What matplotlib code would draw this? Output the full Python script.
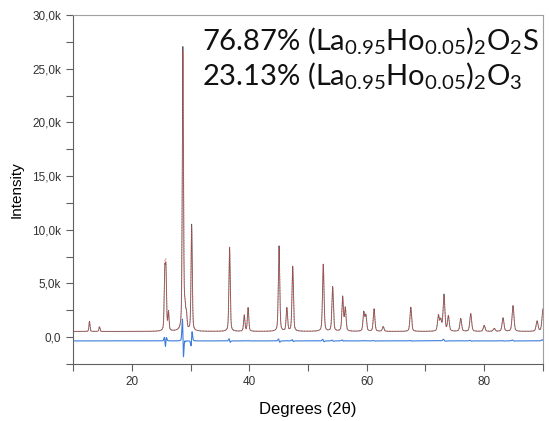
import numpy as np
import matplotlib
matplotlib.use('Agg')
import matplotlib.pyplot as plt
from matplotlib.ticker import MultipleLocator, FuncFormatter

# Peak list read off the pattern: position (2theta), observed height, calculated height,
# and small offset of the calculated peak (gives the residual wiggles)
peak_pos = [12.8, 14.5, 25.62, 25.82, 26.25, 28.70, 29.05, 29.30, 30.20, 36.65,
            39.15, 39.80, 45.07, 46.40, 47.40, 52.60, 54.20, 55.90, 56.35, 59.50,
            59.85, 61.25, 62.80, 67.50, 72.20, 72.60, 73.15, 73.90, 76.00, 77.70,
            80.00, 81.70, 83.20, 84.90, 89.00, 90.00]
peak_obs = [940, 440, 5200, 5300, 1700, 26400, 1800, 1400, 9900, 7850,
            1500, 2200, 7950, 2150, 6050, 6250, 4150, 3200, 2150, 1750,
            1450, 2100, 450, 2250, 1450, 1000, 3400, 1400, 1200, 1650,
            550, 280, 1250, 2400, 950, 2100]
peak_calc = [930, 440, 5100, 5250, 1680, 26000, 1750, 1380, 9600, 7800,
             1490, 2180, 7900, 2130, 6000, 6200, 4120, 3150, 2130, 1730,
             1440, 2080, 450, 2230, 1440, 990, 3300, 1390, 1190, 1630,
             545, 280, 1240, 2350, 940, 2050]
calc_shift = [0, 0, 0.01, -0.01, 0, 0.012, 0.01, 0, -0.012, 0.004,
              0, 0, 0.004, 0, 0.003, 0.004, 0.003, 0.004, 0, 0,
              0, 0.003, 0, 0.003, 0, 0, 0.006, 0, 0, 0.005,
              0, 0, 0.005, 0.006, 0, 0.01]
background = 530
diff_offset = -350

two_theta = np.linspace(10, 90, 16001)


def pattern(heights, shifts):
    y = np.full_like(two_theta, background, dtype=float)
    for p, h, s in zip(peak_pos, heights, shifts):
        fwhm = 0.17 + 0.0024 * p
        dx = (two_theta - p - s) / (fwhm / 2)
        lor = 1 / (1 + dx ** 2)
        gau = np.exp(-np.log(2) * dx ** 2)
        y += h * (0.4 * lor + 0.6 * gau)
    return y


obs = pattern(peak_obs, [0] * len(peak_pos))
calc = pattern(peak_calc, calc_shift)
diff = obs - calc + diff_offset

plt.rcParams['font.family'] = ['Liberation Sans', 'DejaVu Sans']
plt.rcParams['mathtext.fontset'] = 'custom'
plt.rcParams['mathtext.rm'] = 'Lato'
plt.rcParams['mathtext.default'] = 'regular'

fig = plt.figure(figsize=(5.49, 4.21), dpi=100)
ax = fig.add_axes([0.133, 0.1354, 0.856, 0.829])

ax.plot(two_theta, obs, color='#5a5a5a', lw=0.6)
ax.plot(two_theta, calc, color='#f04848', lw=0.8, ls=(0, (1, 1.5)), alpha=0.75)
ax.plot(two_theta, diff, color='#3b7ddd', lw=0.8)

ax.set_xlim(10, 90)
ax.set_ylim(-2500, 30000)
ax.xaxis.set_major_locator(MultipleLocator(20))
ax.xaxis.set_minor_locator(MultipleLocator(10))
ax.yaxis.set_major_locator(MultipleLocator(5000))
ax.yaxis.set_minor_locator(MultipleLocator(2500))
ax.yaxis.set_major_formatter(FuncFormatter(lambda v, _: f"{v / 1000:.1f}k".replace('.', ',') if v != 0 else "0,0"))

for side in ['left', 'bottom']:
    ax.spines[side].set_color('#606060')
for side in ['top', 'right']:
    ax.spines[side].set_color('#a0a0a0')
ax.tick_params(which='major', length=5, width=0.8, color='#606060', labelsize=8.5, labelcolor='#333333')
ax.tick_params(which='minor', length=5, width=0.8, color='#606060')

ax.set_xlabel('Degrees (2θ)', fontsize=12, labelpad=10)
ax.set_ylabel('Intensity', fontsize=11, labelpad=6)

ax.text(0.274, 0.928, '76.87% (La$_{0.95}$Ho$_{0.05}$)$_2$O$_2$S', transform=ax.transAxes,
        fontsize=21, family='Lato', ha='left', va='center', color='#111111')
ax.text(0.274, 0.828, '23.13% (La$_{0.95}$Ho$_{0.05}$)$_2$O$_3$', transform=ax.transAxes,
        fontsize=21, family='Lato', ha='left', va='center', color='#111111')

fig.savefig('out.png', dpi=100)
